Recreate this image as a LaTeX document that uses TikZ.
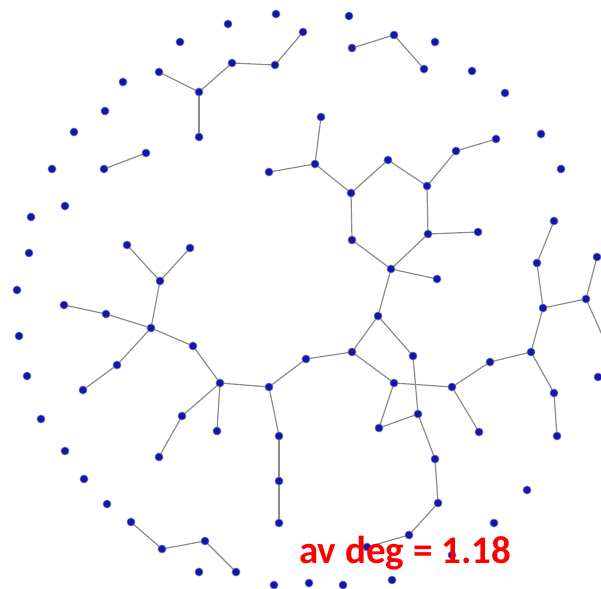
\documentclass[tikz,border=0pt]{standalone}
\usepackage{fontspec}
\newfontfamily\labelfont{Carlito}
\definecolor{vblue}{RGB}{22,22,165}
\definecolor{egray}{RGB}{140,140,140}
\definecolor{lred}{RGB}{255,0,0}
\tikzset{
  v/.style={circle,fill=vblue,draw=vblue!60!white,line width=0.6pt,inner sep=0pt,minimum size=8pt},
  ed/.style={draw=egray,line width=1.2pt},
  lbl/.style={text=lred,font=\labelfont\bfseries\fontsize{39}{39}\selectfont,inner sep=0pt,anchor=base west}
}
\begin{document}
\begin{tikzpicture}[x=1pt,y=-1pt]
\clip (0,0) rectangle (601,588);
\fill[white] (0,0) rectangle (601,588);
% connected nodes
\foreach \n/\x/\y in {p1/104/169,p2/146/153,
  t1/159/72,t2/199/92,t3/199/137,t4/232/63,t5/275/65,t6/303/32,
  u1/352/48,u2/394/35,u3/424/69,
  h1/269/172,h2/315/164,h3/321/117,h4/351/193,h5/388/160,h6/427/186,h7/456/151,h8/496/139,h9/428/234,h10/478/232,h11/352/240,h12/391/269,h13/437/279,
  c1/378/316,c2/352/352,c3/413/356,c4/306/359,c5/394/383,c6/452/387,c7/418/414,c8/379/428,c9/435/459,c10/438/503,c11/409/535,c12/367/547,
  r1/490/362,r2/479/432,r3/531/352,r4/543/308,r5/537/263,r6/554/221,r7/586/299,r8/597/257,r9/554/393,r10/557/436,
  l1/269/387,l2/220/383,l3/193/346,l4/151/328,l5/160/281,l6/127/245,l7/190/248,l8/106/314,l9/64/305,l10/117/365,l11/83/390,l12/182/416,l13/159/457,l14/217/431,l15/279/436,l16/279/481,l17/279/523,
  b1/131/522,b2/162/549,b3/205/541,b4/236/572}
  {\coordinate (\n) at (\x,\y);}
\coordinate (rx) at (607,346);
% edges
\foreach \a/\b in {p1/p2,t1/t2,t2/t3,t2/t4,t4/t5,t5/t6,u1/u2,u2/u3,
  h1/h2,h2/h3,h2/h4,h4/h5,h5/h6,h6/h7,h7/h8,h6/h9,h9/h10,h4/h11,h11/h12,h12/h9,h12/h13,h12/c1,
  c1/c2,c1/c3,c2/c4,c4/l1,c2/c5,c5/c6,c3/c7,c5/c8,c8/c7,c7/c9,c9/c10,c10/c11,c11/c12,
  c6/r1,c6/r2,r1/r3,r3/r4,r4/r5,r5/r6,r4/r7,r7/r8,r7/rx,r3/r9,r9/r10,
  l1/l2,l2/l3,l3/l4,l4/l5,l5/l6,l5/l7,l4/l8,l8/l9,l4/l10,l10/l11,l2/l12,l12/l13,l2/l14,l1/l15,l15/l16,l16/l17,
  b1/b2,b2/b3,b3/b4}
  {\draw[ed] (\a) -- (\b);}
% vertices on top
\foreach \n in {p1,p2,t1,t2,t3,t4,t5,t6,u1,u2,u3,h1,h2,h3,h4,h5,h6,h7,h8,h9,h10,h11,h12,h13,
  c1,c2,c3,c4,c5,c6,c7,c8,c9,c10,c11,c12,r1,r2,r3,r4,r5,r6,r7,r8,r9,r10,
  l1,l2,l3,l4,l5,l6,l7,l8,l9,l10,l11,l12,l13,l14,l15,l16,l17,b1,b2,b3,b4}
  {\node[v] (v\n) at (\n) {};}
% isolated nodes
\foreach \n/\x/\y in {i1/276/14,i2/228/24,i3/180/42,i4/123/82,i5/105/111,i6/74/132,i7/52/169,i8/65/206,
  i9/31/217,i10/29/253,i11/17/290,i12/19/336,i13/27/376,i14/41/419,i15/65/451,i16/84/479,i17/107/504,
  i18/199/572,i19/274/585,i20/309/583,i21/343/585,i22/392/580,i23/452/555,i24/494/523,i25/527/490,
  i26/598/377,i27/561/169,i28/541/134,i29/505/93,i30/472/71,i31/435/42,i32/349/16}
  {\node[v] (\n) at (\x,\y) {};}
\node[lbl] (label) at (299,563) {av deg = 1.18};
\end{tikzpicture}
\end{document}
